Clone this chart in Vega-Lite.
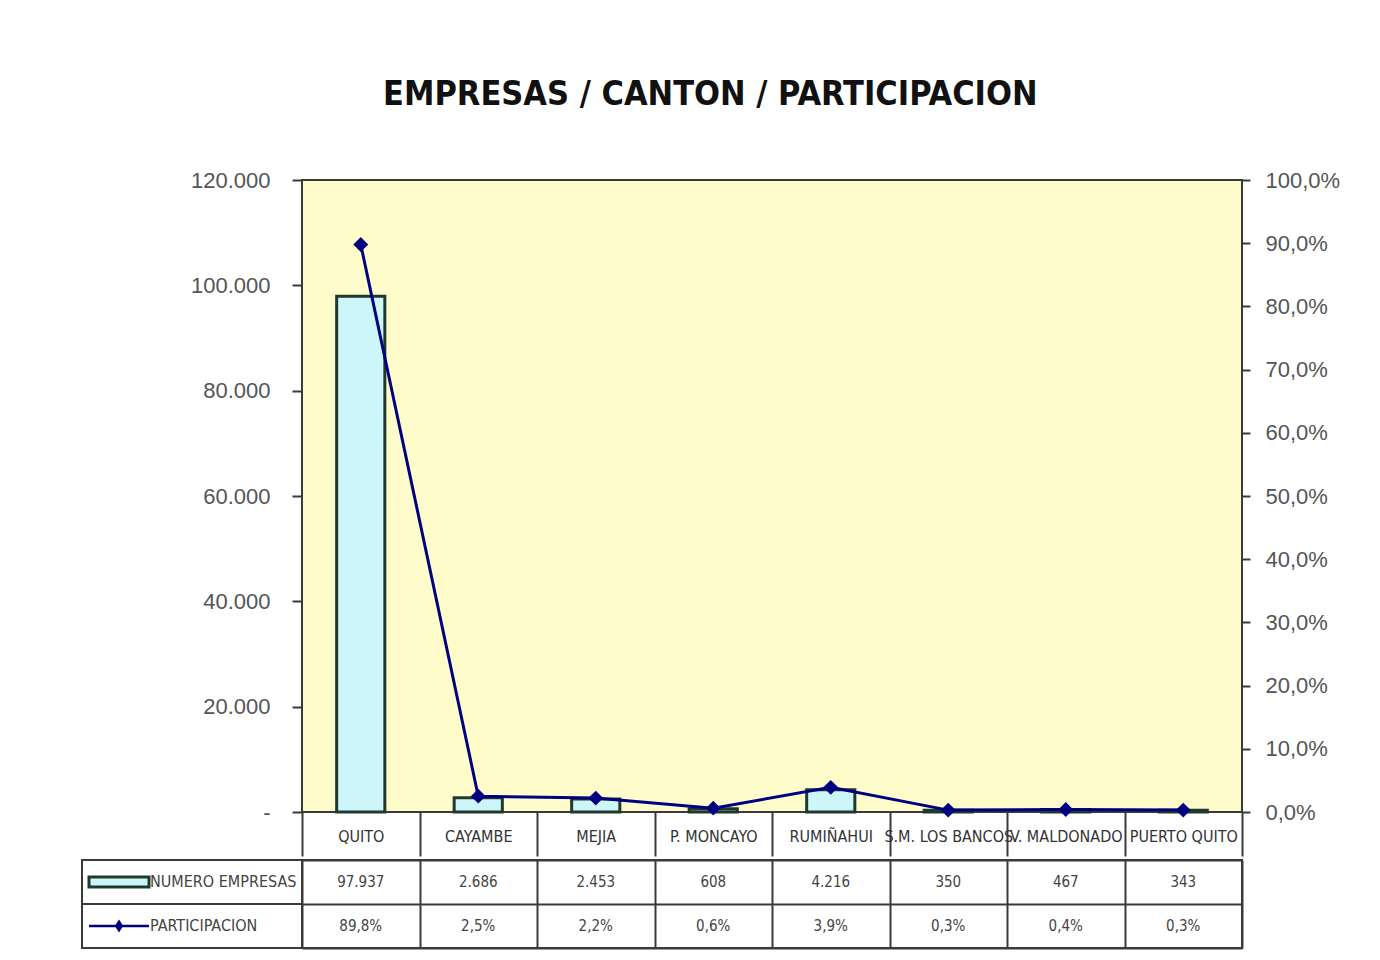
{
  "$schema": "https://vega.github.io/schema/vega-lite/v6.json",
  "background": "white",
  "padding": {"left": 80, "top": 78, "right": 20, "bottom": 10},
  "config": {
    "locale": {"number": {"decimal": ",", "thousands": ".", "grouping": [3], "currency": ["$", ""]}},
    "font": "Liberation Sans",
    "view": {"stroke": null}
  },
  "title": {
    "text": "EMPRESAS / CANTON / PARTICIPACION",
    "font": "DejaVu Sans Condensed, sans-serif",
    "fontSize": 34,
    "fontWeight": "bold",
    "color": "#111",
    "anchor": "middle",
    "offset": 56
  },
  "datasets": {
    "main": [
      {"canton": "QUITO", "empresas": 97937, "participacion": 0.898},
      {"canton": "CAYAMBE", "empresas": 2686, "participacion": 0.025},
      {"canton": "MEJIA", "empresas": 2453, "participacion": 0.022},
      {"canton": "P. MONCAYO", "empresas": 608, "participacion": 0.006},
      {"canton": "RUMIÑAHUI", "empresas": 4216, "participacion": 0.039},
      {"canton": "S.M. LOS BANCOS", "empresas": 350, "participacion": 0.003},
      {"canton": "V. MALDONADO", "empresas": 467, "participacion": 0.004},
      {"canton": "PUERTO QUITO", "empresas": 343, "participacion": 0.003}
    ],
    "rows": [
      {"serie": "NUMERO EMPRESAS", "hcol": "h"},
      {"serie": "PARTICIPACION", "hcol": "h"}
    ]
  },
  "spacing": 0,
  "vconcat": [
    {
      "width": 940,
      "height": 632,
      "data": {"name": "main"},
      "view": {"fill": "#fffccc", "stroke": "#3a3a3a", "strokeWidth": 2},
      "layer": [
        {
          "mark": {"type": "bar", "fill": "#ccf6fa", "stroke": "#1f3a2c", "strokeWidth": 3, "width": {"band": 0.41}},
          "encoding": {
            "x": {
              "field": "canton", "type": "nominal", "sort": null,
              "scale": {"type": "band", "paddingInner": 0, "paddingOuter": 0},
              "axis": {
                "title": null, "orient": "bottom", "tickBand": "extent", "tickSize": 44,
                "tickColor": "#3a3a3a", "tickWidth": 2, "domain": false,
                "labelAngle": 0, "labelBaseline": "middle", "labelPadding": -20,
                "labelFont": "DejaVu Sans Condensed, sans-serif",
                "labelFontSize": 16, "labelColor": "#333", "labelLimit": 0, "labelOverlap": false
              }
            },
            "y": {
              "field": "empresas", "type": "quantitative",
              "scale": {"domain": [0, 120000], "nice": false},
              "axis": {
                "title": null, "orient": "left", "values": [0, 20000, 40000, 60000, 80000, 100000, 120000],
                "format": ",.0f", "labelExpr": "datum.value == 0 ? '-' : datum.label",
                "grid": false, "domain": false, "tickSize": 10, "tickColor": "#3a3a3a", "tickWidth": 2,
                "labelPadding": 22, "labelFontSize": 22, "labelColor": "#555"
              }
            }
          }
        },
        {
          "mark": {"type": "line", "color": "#000080", "strokeWidth": 3, "point": {"shape": "diamond", "size": 220, "filled": true, "color": "#000080"}},
          "encoding": {
            "x": {"field": "canton", "type": "nominal", "sort": null},
            "y": {
              "field": "participacion", "type": "quantitative",
              "scale": {"domain": [0, 1], "nice": false},
              "axis": {
                "title": null, "orient": "right", "values": [0, 0.1, 0.2, 0.3, 0.4, 0.5, 0.6, 0.7, 0.8, 0.9, 1],
                "format": ".1%", "grid": false, "domain": false, "tickSize": 8, "tickColor": "#3a3a3a", "tickWidth": 2,
                "labelPadding": 15, "labelFontSize": 22, "labelColor": "#555"
              }
            }
          }
        }
      ],
      "resolve": {"scale": {"y": "independent"}}
    },
    {
      "width": 940,
      "height": 88,
      "view": {"fill": "white", "stroke": "#3a3a3a", "strokeWidth": 2},
      "layer": [
        {
          "data": {"name": "main"},
          "mark": {"type": "text", "font": "DejaVu Sans Condensed, sans-serif", "fontSize": 15, "color": "#444"},
          "encoding": {
            "x": {
              "field": "canton", "type": "nominal", "sort": null,
              "scale": {"type": "band", "paddingInner": 0, "paddingOuter": 0},
              "axis": {"title": null, "labels": false, "ticks": false, "domain": false, "grid": true, "tickBand": "extent", "gridColor": "#3a3a3a", "gridWidth": 2, "gridOpacity": 1}
            },
            "y": {
              "datum": "NUMERO EMPRESAS", "type": "nominal",
              "scale": {"type": "band", "domain": ["NUMERO EMPRESAS", "PARTICIPACION"], "paddingInner": 0, "paddingOuter": 0},
              "axis": {"title": null, "labels": false, "ticks": false, "domain": false, "grid": true, "tickBand": "extent", "gridColor": "#3a3a3a", "gridWidth": 2, "gridOpacity": 1}
            },
            "text": {"field": "empresas", "type": "quantitative", "format": ",.0f"}
          }
        },
        {
          "data": {"name": "main"},
          "mark": {"type": "text", "font": "DejaVu Sans Condensed, sans-serif", "fontSize": 15, "color": "#444"},
          "encoding": {
            "x": {"field": "canton", "type": "nominal", "sort": null, "scale": {"type": "band", "paddingInner": 0, "paddingOuter": 0}, "axis": null},
            "y": {"datum": "PARTICIPACION", "type": "nominal"},
            "text": {"field": "participacion", "type": "quantitative", "format": ".1%"}
          }
        },
        {
          "data": {"name": "rows"},
          "mark": {"type": "rect", "fill": null, "stroke": "#3a3a3a", "strokeWidth": 2, "clip": false},
          "encoding": {
            "x": {"field": "hcol", "type": "nominal", "scale": {"type": "band", "domain": ["h"], "range": [-220, 0], "paddingInner": 0, "paddingOuter": 0}, "axis": null},
            "y": {"field": "serie", "type": "nominal"}
          }
        },
        {
          "data": {"name": "rows"},
          "mark": {"type": "text", "align": "left", "font": "DejaVu Sans Condensed, sans-serif", "fontSize": 16, "color": "#444", "clip": false},
          "encoding": {
            "x": {"field": "hcol", "type": "nominal", "scale": {"type": "point", "domain": ["h"], "range": [-156, -148], "padding": 0}, "axis": null},
            "y": {"field": "serie", "type": "nominal"},
            "text": {"field": "serie", "type": "nominal"}
          }
        },
        {
          "data": {"name": "rows"},
          "transform": [{"filter": "datum.serie == 'NUMERO EMPRESAS'"}],
          "mark": {"type": "point", "shape": "M-1,-0.17H1V0.17H-1Z", "size": 3600, "filled": true, "fill": "#ccf6fa", "stroke": "#1f3a2c", "strokeWidth": 3, "opacity": 1, "clip": false},
          "encoding": {
            "x": {"field": "hcol", "type": "nominal", "scale": {"type": "point", "domain": ["h"], "range": [-196, -170], "padding": 0}, "axis": null},
            "y": {"field": "serie", "type": "nominal"}
          }
        },
        {
          "data": {"name": "rows"},
          "transform": [{"filter": "datum.serie == 'PARTICIPACION'"}],
          "mark": {"type": "point", "shape": "M-1,0H1M0,-0.14L0.09,0L0,0.14L-0.09,0Z", "size": 3600, "filled": true, "fill": "#000080", "stroke": "#000080", "strokeWidth": 2.5, "opacity": 1, "clip": false},
          "encoding": {
            "x": {"field": "hcol", "type": "nominal", "scale": {"type": "point", "domain": ["h"], "range": [-196, -170], "padding": 0}, "axis": null},
            "y": {"field": "serie", "type": "nominal"}
          }
        }
      ],
      "resolve": {"scale": {"x": "independent"}}
    }
  ]
}
